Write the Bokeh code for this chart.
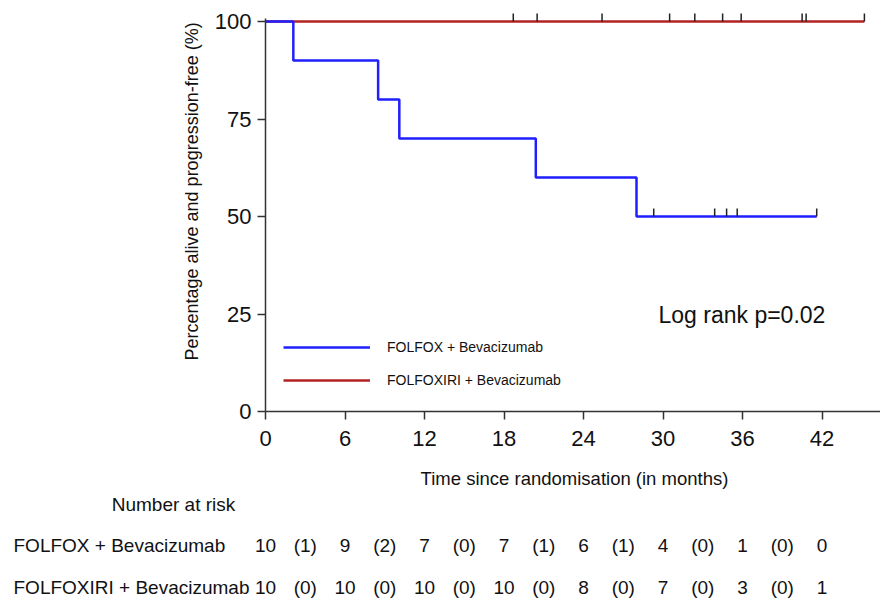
import math
from bokeh.plotting import figure
from bokeh.layouts import column
from bokeh.models import (Range1d, ColumnDataSource, LabelSet, Label, Legend,
                          LegendItem, FixedTicker, Title)
from bokeh.core.properties import value
from bokeh.embed import file_html
from bokeh.resources import INLINE

# ---------------- data ----------------
folfox_times = [0, 2.1, 8.5, 10.1, 20.4, 28.0, 41.6]
folfox_surv = [100, 90, 80, 70, 60, 50, 50]
folfox_censor = [29.3, 33.9, 34.8, 35.6, 41.6]

folfoxiri_times = [0, 45.2]
folfoxiri_surv = [100, 100]
folfoxiri_censor = [18.7, 20.5, 25.4, 30.5, 32.4, 34.5, 35.9, 40.5, 40.8, 45.2]

risk_times = [0, 6, 12, 18, 24, 30, 36, 42]
folfox_at_risk = [10, 9, 7, 7, 6, 4, 1, 0]
folfox_events = [1, 2, 0, 1, 1, 0, 0]
folfoxiri_at_risk = [10, 10, 10, 10, 8, 7, 3, 1]
folfoxiri_events = [0, 0, 0, 0, 0, 0, 0]

x_ticks = [0, 6, 12, 18, 24, 30, 36, 42]
y_ticks = [0, 25, 50, 75, 100]

series_names = ["FOLFOX + Bevacizumab", "FOLFOXIRI + Bevacizumab"]
x_title = "Time since randomisation (in months)"
y_title = "Percentage alive and progression-free (%)"
risk_title = "Number at risk"
p_text = "Log rank p=0.02"

# ---------------- layout ----------------
FONT = "Liberation Sans"
TXT = "#111111"
W = 880
H_TOP, H_BOT = 460, 141
LEFT, TOP = 265, 12
FRAME_H = 399
PX_PER_X = 13.25
PX_PER_Y = 3.9
X_END = (W - LEFT) / PX_PER_X
Y_END = FRAME_H / PX_PER_Y
Y0_IMG = TOP + FRAME_H


def dx(px):
    return (px - LEFT) / PX_PER_X


def dy(py):
    return (Y0_IMG - py) / PX_PER_Y


p = figure(width=W, height=H_TOP, output_backend="svg", toolbar_location=None,
           x_range=Range1d(0, X_END), y_range=Range1d(0, Y_END),
           min_border_left=LEFT, min_border_right=0, min_border_top=TOP,
           min_border_bottom=H_TOP - TOP - FRAME_H)
p.frame_align = False
p.outline_line_color = None
p.xgrid.grid_line_color = None
p.ygrid.grid_line_color = None

for ax in (p.xaxis[0], p.yaxis[0]):
    ax.axis_line_color = "#333333"
    ax.axis_line_width = 1.5
    ax.major_tick_line_color = "#333333"
    ax.major_tick_line_width = 1.5
    ax.major_tick_out = 8
    ax.major_tick_in = 0
    ax.minor_tick_line_color = None
    ax.major_label_text_font = FONT
    ax.major_label_text_font_size = "22px"
    ax.major_label_text_color = TXT

p.xaxis[0].major_label_standoff = 11
p.yaxis[0].major_label_standoff = 6
p.xaxis[0].ticker = FixedTicker(ticks=x_ticks)
p.yaxis[0].ticker = FixedTicker(ticks=y_ticks)
p.yaxis[0].bounds = (0, 100.8)

p.add_layout(Title(text=y_title, align="left", offset=51, standoff=20,
                   text_font=FONT, text_font_size="18px",
                   text_font_style="normal", text_color=TXT), "left")

BLUE = "#1f1fff"
RED = "#b22222"

r_red = p.step(folfoxiri_times, folfoxiri_surv, mode="after",
               line_color=RED, line_width=2.5)
r_blue = p.step(folfox_times, folfox_surv, mode="after",
                line_color=BLUE, line_width=2.5)


def surv_at(times, surv, t):
    v = surv[0]
    for ti, si in zip(times, surv):
        if ti <= t:
            v = si
    return v


TICK_LEN = 8 / PX_PER_Y
for times, surv, cens in ((folfox_times, folfox_surv, folfox_censor),
                          (folfoxiri_times, folfoxiri_surv, folfoxiri_censor)):
    ys = [surv_at(times, surv, c) for c in cens]
    p.segment(x0=cens, y0=ys, x1=cens, y1=[v + TICK_LEN for v in ys],
              line_color="#222222", line_width=1.5)

legend = Legend(items=[LegendItem(label=series_names[0], renderers=[r_blue]),
                       LegendItem(label=series_names[1], renderers=[r_red])],
                location=(283 - LEFT, Y0_IMG - 390),
                orientation="vertical",
                glyph_width=87, glyph_height=20, label_height=20,
                label_standoff=17, spacing=13, padding=0, margin=0,
                border_line_color=None, background_fill_alpha=0,
                label_text_font=FONT, label_text_font_size="14px",
                label_text_color=TXT)
p.add_layout(legend)

p.add_layout(Label(x=dx(658), y=dy(314), text=p_text, text_font=FONT,
                   text_font_size="23px", text_align="left",
                   text_baseline="middle", text_color=TXT))

# ---------------- bottom: axis title + number at risk ----------------
# x range shares the same time scale as the plot above; y in page pixels
q = figure(width=W, height=H_BOT, output_backend="svg", toolbar_location=None,
           x_range=Range1d(-LEFT / PX_PER_X, X_END),
           y_range=Range1d(H_TOP + H_BOT, H_TOP),
           min_border_left=0, min_border_right=0, min_border_top=0,
           min_border_bottom=0, x_axis_location=None, y_axis_location=None)
q.frame_align = False
q.outline_line_color = None
q.xgrid.grid_line_color = None
q.ygrid.grid_line_color = None

q.add_layout(Label(x=dx(574), y=478, text=x_title, text_font=FONT,
                   text_font_size="18.5px", text_align="center",
                   text_baseline="middle", text_color=TXT))
q.add_layout(Label(x=dx(173), y=504, text=risk_title, text_font=FONT,
                   text_font_size="19px", text_align="center",
                   text_baseline="middle", text_color=TXT))

row_px = [544.5, 587]
rows = [(folfox_at_risk, folfox_events), (folfoxiri_at_risk, folfoxiri_events)]
for name, (risk, ev), ypx in zip(series_names, rows, row_px):
    q.add_layout(Label(x=dx(13), y=ypx, text=name, text_font=FONT,
                       text_font_size="19px", text_align="left",
                       text_baseline="middle", text_color=TXT))
    xs, txt = [], []
    for i, t in enumerate(risk_times):
        xs.append(t)
        txt.append(str(risk[i]))
        if i < len(ev):
            xs.append((t + risk_times[i + 1]) / 2)
            txt.append("(%d)" % ev[i])
    src = ColumnDataSource(dict(x=xs, y=[ypx] * len(xs), text=txt))
    q.add_layout(LabelSet(x="x", y="y", text="text", source=src,
                          text_font=value(FONT), text_font_size=value("19px"),
                          text_align="center", text_baseline="middle",
                          text_color=TXT))

layout = column(p, q, spacing=0)
open("out.html", "w").write(file_html(layout, INLINE))
